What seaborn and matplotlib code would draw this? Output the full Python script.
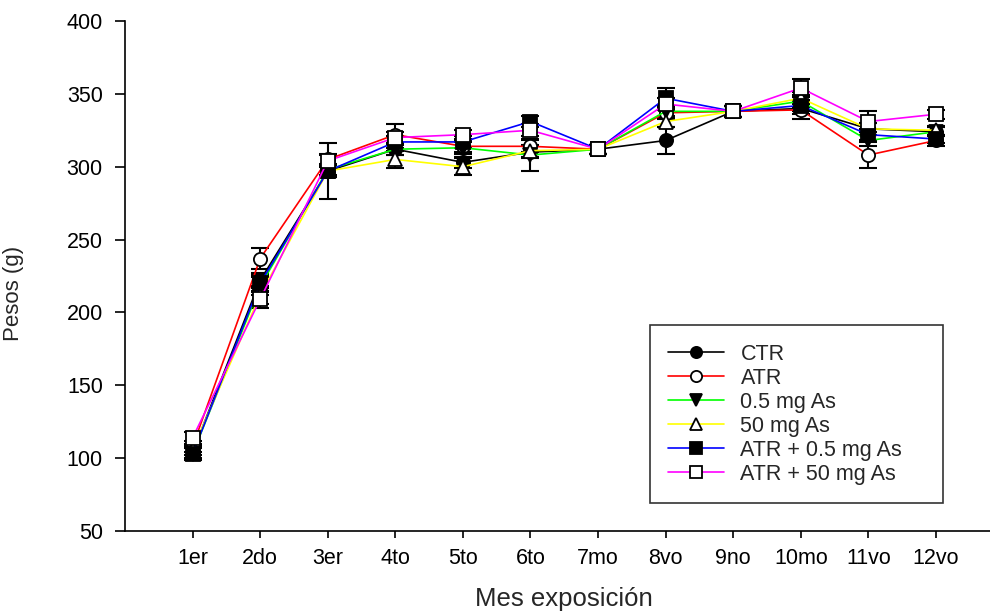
import numpy as np
import pandas as pd
import matplotlib
matplotlib.use("Agg")
import matplotlib.pyplot as plt
import seaborn as sns

months = ['1er', '2do', '3er', '4to', '5to', '6to', '7mo', '8vo', '9no', '10mo', '11vo', '12vo']
series_names = ['CTR', 'ATR', '0.5 mg As', '50 mg As', 'ATR + 0.5 mg As', 'ATR + 50 mg As']

ctr = [104, 222, 297, 312, 303, 310, 312, 318, 338, 340, 326, 324]
atr = [108, 237, 305, 322, 314, 314, 312, 337, 338, 339, 308, 318]
as05 = [103, 218, 298, 312, 313, 308, 312, 338, 338, 345, 318, 324]
as50 = [106, 212, 297, 305, 300, 311, 312, 331, 338, 347, 326, 325]
atr_as05 = [103, 220, 297, 317, 317, 331, 312, 347, 338, 342, 322, 319]
atr_as50 = [114, 209, 304, 320, 322, 325, 312, 343, 338, 354, 331, 336]

ctr_err = [4, 5, 19, 4, 4, 4, 3, 9, 4, 4, 4, 3]
atr_err = [4, 7, 4, 7, 4, 4, 3, 4, 4, 6, 9, 4]
as05_err = [4, 6, 4, 4, 4, 11, 3, 4, 4, 4, 4, 3]
as50_err = [4, 6, 4, 6, 6, 4, 3, 4, 4, 4, 4, 3]
atr_as05_err = [4, 6, 4, 4, 4, 4, 3, 7, 4, 4, 4, 3]
atr_as50_err = [4, 6, 4, 4, 3, 4, 3, 4, 4, 6, 7, 3]

values = [ctr, atr, as05, as50, atr_as05, atr_as50]
errors = [ctr_err, atr_err, as05_err, as50_err, atr_as05_err, atr_as50_err]
colors = ['#000000', '#ff0000', '#00ff00', '#ffff00', '#0000ff', '#ff00ff']
markers = ['o', 'o', 'v', '^', 's', 's']
faces = ['k', 'w', 'k', 'w', 'k', 'w']

sns.set_style("ticks")
plt.rcParams['font.family'] = ['Liberation Sans', 'DejaVu Sans']

fig = plt.figure(figsize=(9.9, 6.14), dpi=100)
ax = fig.add_axes([0.1263, 0.1352, 0.8737, 0.8306])

xs = np.arange(1, len(months) + 1)
for name, vals, err, c, m, fc in zip(series_names, values, errors, colors, markers, faces):
    df = pd.DataFrame({'mes': xs, 'peso': vals})
    ax.errorbar(df['mes'], df['peso'], yerr=err, fmt='none', ecolor='k',
                elinewidth=1.5, capsize=6.5, capthick=1.5, zorder=2)
    sns.lineplot(data=df, x='mes', y='peso', ax=ax, color=c, linewidth=1.2,
                 marker=m, markersize=9.5, markerfacecolor=fc,
                 markeredgecolor='k', markeredgewidth=1.3, label=name, zorder=3)

ax.set_xlim(0, 12.8)
ax.set_ylim(50, 400)
ax.set_yticks(np.arange(50, 401, 50))
ax.set_xticks(xs)
ax.set_xticklabels(months)
ax.tick_params(axis='both', labelsize=15.5, width=1.2, colors='k', direction='out')
ax.tick_params(axis='y', length=7, pad=9)
ax.tick_params(axis='x', length=5, pad=7)
for s in ['left', 'bottom']:
    ax.spines[s].set_linewidth(1.2)
    ax.spines[s].set_color('k')
sns.despine(ax=ax)

ax.set_xlabel('Mes exposición', fontsize=18.5)
ax.set_ylabel('Pesos (g)', fontsize=16)
ax.xaxis.set_label_coords(0.507, -0.11)
ax.yaxis.set_label_coords(-0.117, 0.465)

leg = ax.legend(loc='lower left', bbox_to_anchor=(0.607, 0.055, 0.339, 0.345),
                mode='expand', borderaxespad=0,
                fontsize=15.5, frameon=True, fancybox=False, edgecolor='k',
                handlelength=2.6, handletextpad=0.75, labelspacing=0.14,
                borderpad=0.85, markerscale=0.85)
leg.get_frame().set_linewidth(1.2)

fig.savefig('out.png', dpi=100)
